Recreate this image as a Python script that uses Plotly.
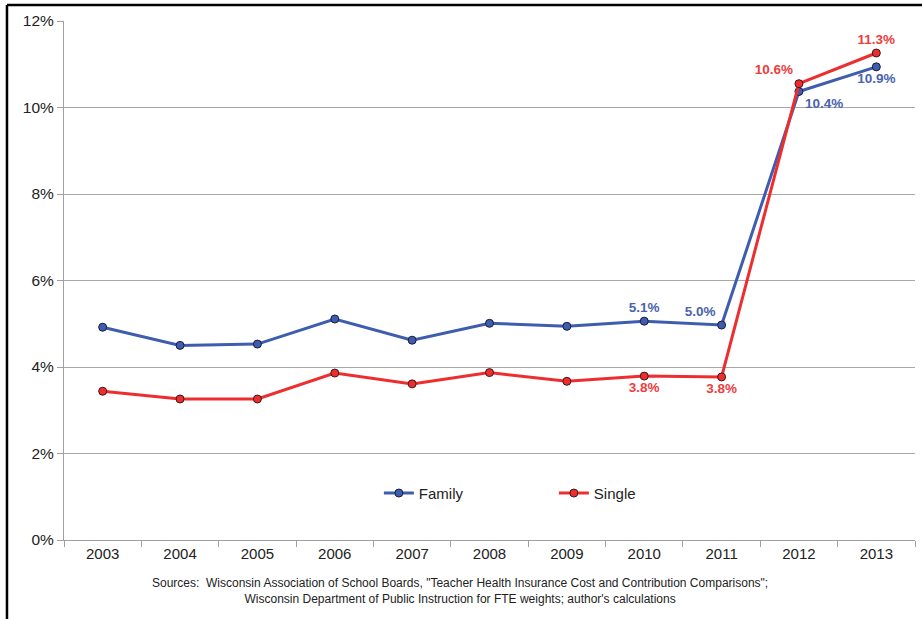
import plotly.graph_objects as go

years = ["2003", "2004", "2005", "2006", "2007", "2008", "2009", "2010", "2011", "2012", "2013"]
family = [4.92, 4.50, 4.53, 5.11, 4.62, 5.01, 4.94, 5.06, 4.97, 10.37, 10.94]
single = [3.44, 3.26, 3.26, 3.86, 3.61, 3.87, 3.67, 3.79, 3.77, 10.55, 11.26]
family_labels = ["", "", "", "", "", "", "", "5.1%", "5.0%", "10.4%", "10.9%"]
single_labels = ["", "", "", "", "", "", "", "3.8%", "3.8%", "10.6%", "11.3%"]
y_ticks = [0, 2, 4, 6, 8, 10, 12]
y_tick_text = ["0%", "2%", "4%", "6%", "8%", "10%", "12%"]
source_text = ("Sources:  Wisconsin Association of School Boards, \"Teacher Health Insurance Cost and Contribution Comparisons\";"
               "<br>Wisconsin Department of Public Instruction for FTE weights; author's calculations")

blue = "#3F5DAE"
red = "#EE2E2E"
font = "Liberation Sans, Arial, sans-serif"

fig = go.Figure()
fig.add_trace(go.Scatter(
    x=years, y=family, name="Family", mode="lines+markers+text",
    line=dict(color=blue, width=3),
    marker=dict(size=8, color=blue, line=dict(color="#1a1a3a", width=1)),
    text=family_labels,
    textposition=["top center"] * 7 + ["top center", "top left", "bottom right", "bottom center"],
    textfont=dict(color="#4A63B0", size=13.5, family=font, weight="bold"),
))
fig.add_trace(go.Scatter(
    x=years, y=single, name="Single", mode="lines+markers+text",
    line=dict(color=red, width=3),
    marker=dict(size=8, color=red, line=dict(color="#3a1a1a", width=1)),
    text=single_labels,
    textposition=["bottom center"] * 7 + ["bottom center", "bottom center", "top left", "top center"],
    textfont=dict(color="#F03C3C", size=13.5, family=font, weight="bold"),
))

fig.update_layout(
    width=922, height=619,
    margin=dict(l=64, r=7, t=21, b=79),
    paper_bgcolor="white", plot_bgcolor="white",
    font=dict(family=font, color="#222222"),
    showlegend=True,
    legend=dict(orientation="h", x=0.37, y=0.09, xanchor="left", yanchor="middle",
                font=dict(size=15, color="#222222"), entrywidth=130, entrywidthmode="pixels",
                bgcolor="rgba(0,0,0,0)"),
    xaxis=dict(type="category", range=[-0.5, 10.5], showgrid=False,
               showline=True, linecolor="#A0A0A0", linewidth=1,
               ticks="outside", ticklen=6, tickcolor="#A0A0A0", tickson="boundaries",
               tickfont=dict(size=15, color="#222222"), fixedrange=True),
    yaxis=dict(range=[0, 12], tickvals=y_ticks, ticktext=y_tick_text,
               showgrid=True, gridcolor="#A8A8A8", gridwidth=1,
               showline=True, linecolor="#A0A0A0", linewidth=1,
               ticks="outside", ticklen=6, tickcolor="#A0A0A0",
               tickfont=dict(size=15.5, color="#222222"), zeroline=False, fixedrange=True),
    annotations=[dict(text=source_text, xref="paper", yref="paper", x=0.465, y=-0.065,
                      xanchor="center", yanchor="top", showarrow=False,
                      font=dict(size=12, color="#222222", family=font))],
    shapes=[
        dict(type="line", xref="paper", yref="paper", x0=-0.067, x1=-0.067, y0=-0.2, y1=1.031,
             line=dict(color="black", width=2.5)),
        dict(type="line", xref="paper", yref="paper", x0=-0.067, x1=1.01, y0=1.031, y1=1.031,
             line=dict(color="black", width=2.5)),
    ],
)

fig.write_html("out.html", config={"displayModeBar": False},
               post_script="document.body.style.margin='0';")
